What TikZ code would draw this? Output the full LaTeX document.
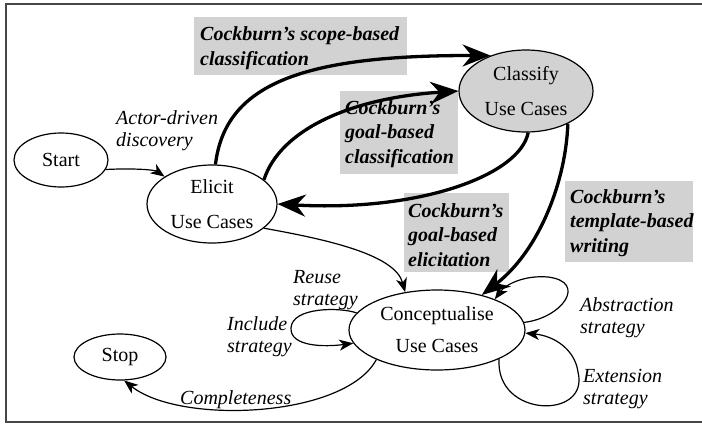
\documentclass[tikz,border=0pt]{standalone}
\usepackage{fontspec}
\setmainfont{Liberation Serif}
\usetikzlibrary{shapes.geometric,arrows.meta}
\definecolor{shade}{RGB}{210,210,210}
\definecolor{framegray}{RGB}{70,70,70}
\begin{document}
\begin{tikzpicture}[x=1pt,y=-1pt,
  state/.style={ellipse, draw=black, line width=1.2pt, inner sep=0pt, align=center,
    font=\fontsize{20}{32}\selectfont},
  widestate/.style={state, font=\fontsize{20}{35}\selectfont},
  note/.style={font=\fontsize{20}{22}\selectfont\itshape, align=left, inner sep=0pt, anchor=base west},
  panel/.style={fill=shade, draw=none, anchor=north west, inner sep=0pt},
  paneltext/.style={font=\fontsize{20}{24.5}\selectfont\bfseries\itshape, align=left,
    inner sep=0pt, anchor=base west},
  flow/.style={line width=1.2pt, -{Stealth[length=14pt,width=11pt,inset=4pt]}},
  heavy/.style={line width=3.3pt, -{Stealth[length=28pt,width=22pt,inset=9pt]}},
]
\useasboundingbox (0,0) rectangle (702,424);
\draw[framegray, line width=1.5pt] (6,4) rectangle (720,422);

% shaded label panels (text nodes are placed by the baseline of their last line)
\node[panel, minimum width=213pt, minimum height=58pt] (scopebox) at (194,17) {};
\node[panel, minimum width=118pt, minimum height=83pt] (goalcbox) at (340,91) {};
\node[panel, minimum width=105pt, minimum height=79pt] (goalebox) at (404,193) {};
\node[panel, minimum width=128pt, minimum height=81pt] (tmplbox) at (565,181) {};
\node[paneltext] (scopetxt) at (200,65) {Cockburn’s scope-based\\classification};
\node[paneltext] (goalctxt) at (345,163) {Cockburn’s\\goal-based\\classification};
\node[paneltext] (goaletxt) at (408,266) {Cockburn’s\\goal-based\\elicitation};
\node[paneltext] (tmpltxt) at (570,252) {Cockburn’s\\template-based\\writing};

% states
\node[state, minimum width=94pt, minimum height=54pt] (start) at (61,160) {Start};
\node[widestate, minimum width=130pt, minimum height=78pt] (elicit) at (212,204) {Elicit\\Use Cases};
\node[widestate, fill=shade, minimum width=134pt, minimum height=82pt] (classify) at (526,91) {Classify\\Use Cases};
\node[state, minimum width=176pt, minimum height=80pt] (conc) at (437,330) {Conceptualise\\Use Cases};
\node[state, minimum width=92pt, minimum height=46pt] (stop) at (120,357) {Stop};

% edge labels
\node[note] (actor) at (116,146) {Actor-driven\\discovery};
\node[note] (reuse) at (293,305) {Reuse\\strategy};
\node[note] (incl) at (227,352) {Include\\strategy};
\node[note] (compl) at (180,404) {Completeness};
\node[note] (abstr) at (580,333) {Abstraction\\strategy};
\node[note] (ext) at (583,404) {Extension\\strategy};

% transitions
\draw[flow] (start.-12) .. controls (135,168) and (155,170) .. (elicit.150);
\draw[heavy] (elicit.85) .. controls (225,85) and (300,55) .. (classify.135);
\draw[heavy] (elicit.25) .. controls (280,130) and (350,98) .. (classify.180);
\draw[heavy] (classify.-87) .. controls (520,175) and (420,212) .. (elicit.0);
\draw[heavy] (classify.-38) .. controls (566,180) and (540,250) .. (conc.38);
\draw[flow] (elicit.-25) .. controls (330,240) and (395,255) .. (conc.130);
\draw[flow] (conc.168) .. controls (340,307) and (292,307) .. (291,328)
  .. controls (290,347) and (325,347) .. (conc.189);
\draw[flow] (conc.5) .. controls (562,318) and (588,282) .. (548,277)
  .. controls (525,275) and (506,284) .. (conc.28);
\draw[flow] (conc.-25) .. controls (495,418) and (590,420) .. (578,372)
  .. controls (575,350) and (555,336) .. (conc.-2);
\draw[flow] (conc.206) .. controls (345,418) and (180,425) .. (stop.-80);
\end{tikzpicture}
\end{document}
